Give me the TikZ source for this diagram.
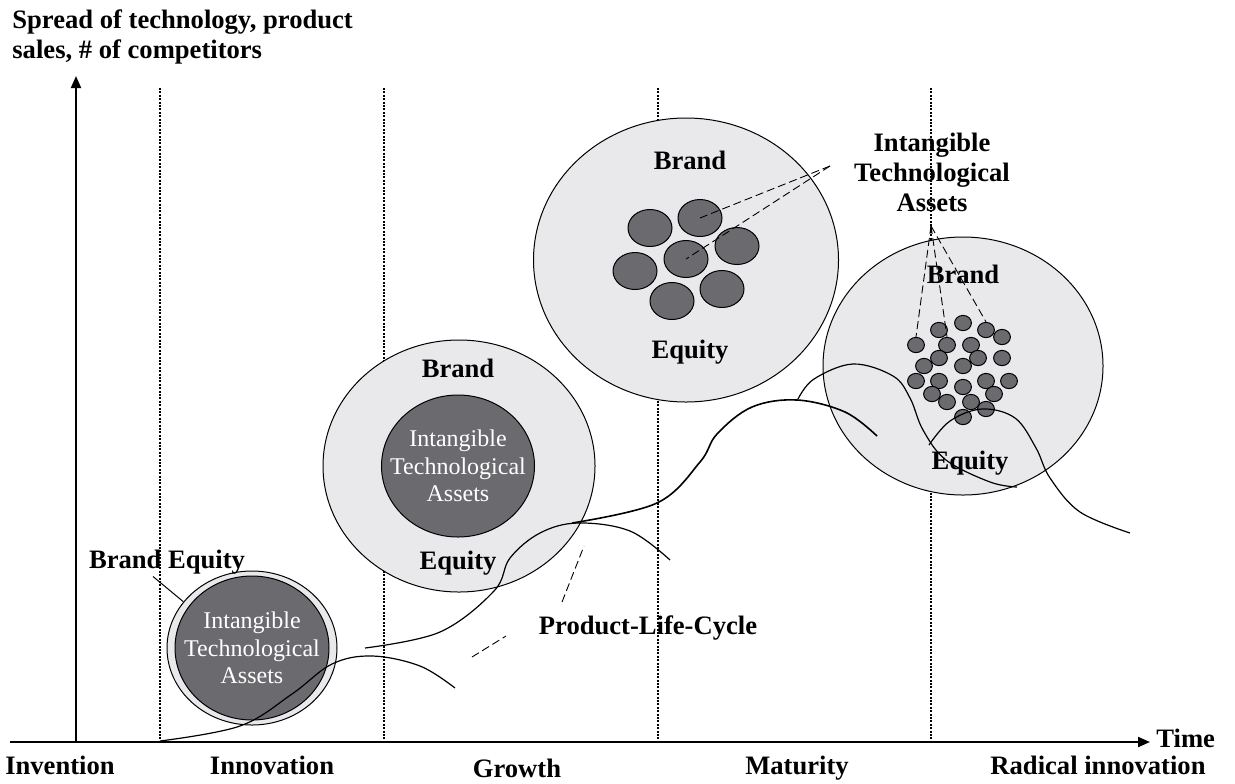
\documentclass[tikz,border=0pt]{standalone}
\usepackage{fontspec}
\setmainfont{Liberation Serif}
\usetikzlibrary{shapes.geometric,arrows.meta,calc}

\definecolor{brandgray}{HTML}{E9E9EB}
\definecolor{assetgray}{HTML}{6B6B6F}

\tikzset{
    lbl/.style={font=\bfseries\fontsize{13.3}{15}\selectfont,align=center,inner sep=1pt},
    brand/.style={ellipse,draw,line width=0.5pt,fill=brandgray,inner sep=0pt},
    asset/.style={ellipse,draw,line width=0.5pt,fill=assetgray,inner sep=0pt},
    assettext/.style={text=white,align=center,inner sep=0pt,font=\fontsize{12}{13.8}\selectfont},
    bigdot/.style={ellipse,draw,line width=0.5pt,fill=assetgray,inner sep=0pt,minimum width=22pt,minimum height=18.5pt},
    smalldot/.style={ellipse,draw,line width=0.5pt,fill=assetgray,inner sep=0pt,minimum width=8.4pt,minimum height=7.6pt},
    phase/.style={line width=1pt,dash pattern=on 1pt off 0.7pt},
    lead/.style={line width=0.45pt,dash pattern=on 4pt off 2pt},
    plc/.style={line width=0.6pt}
}

\begin{document}
\begin{tikzpicture}[x=0.5pt,y=-0.5pt]
    \useasboundingbox (0,0) rectangle (1235,783);

    \draw[phase] (160,88) -- (160,742);
    \draw[phase] (384,88) -- (384,742);
    \draw[phase] (658,88) -- (658,742);
    \draw[phase] (931,88) -- (931,742);

    \draw[line width=1pt,-{Triangle[length=6pt,width=5pt]}] (10,742) -- (1150,742);
    \draw[line width=1pt,-{Triangle[length=6pt,width=5pt]}] (76,742) -- (76,76);

    \node[lbl,align=left,anchor=north west,inner sep=0pt] (yax) at (12,9) {Spread of technology, product\\sales, \# of competitors};
    \node[lbl,anchor=west] (time) at (1154,738) {Time};
    \node[lbl] (inv) at (60,765) {Invention};
    \node[lbl] (innov) at (272,765) {Innovation};
    \node[lbl] (grow) at (517,768) {Growth};
    \node[lbl] (mat) at (797,768) {Maturity};
    \node[lbl] (rad) at (1098,765) {Radical innovation};

    % innovation
    \node[brand,minimum width=85pt,minimum height=77pt] (sring) at (252,648) {};
    \node[asset,minimum width=77pt,minimum height=72pt] (sasset) at (252,648) {};
    \node[assettext] (stext) at (sasset) {Intangible\\Technological\\Assets};
    \node[lbl] (sbrand) at (167,562) {Brand Equity};
    \draw[line width=0.5pt] ($(sbrand.south)+(-14,0)$) -- (sring.146);

    % growth
    \node[brand,minimum width=136pt,minimum height=126pt] (gring) at (459,466) {};
    \node[asset,minimum width=76.5pt,minimum height=71pt] (gasset) at (458,466) {};
    \node[assettext] (gtext) at (gasset) {Intangible\\Technological\\Assets};
    \node[lbl] (gbrand) at (458,368) {Brand};
    \node[lbl] (gequity) at (458,563) {Equity};

    % maturity
    \node[brand,minimum width=152.5pt,minimum height=142pt] (mring) at (686,260) {};
    \node[lbl] (mbrand) at (690,160) {Brand};
    \node[lbl] (mequity) at (690,352) {Equity};
    \node[bigdot] (m1) at (650,228) {};
    \node[bigdot] (m2) at (700,218) {};
    \node[bigdot] (m3) at (686,259) {};
    \node[bigdot] (m4) at (737,246) {};
    \node[bigdot] (m5) at (635,271) {};
    \node[bigdot] (m6) at (672,301) {};
    \node[bigdot] (m7) at (722,289) {};

    % radical innovation
    \node[brand,minimum width=140pt,minimum height=129pt] (rring) at (963,366) {};
    \node[lbl] (rbrand) at (963,274) {Brand};
    \node[lbl] (requity) at (970,463) {Equity};
    \foreach \px/\py [count=\i] in {916/345,939/330,963/323,986/330,1002/337,947/345,971/345,939/358,978/358,1002/358,
        924/366,963/366,916/381,939/381,986/381,1009/381,963/387,932/394,994/394,947/402,971/402,986/409,963/417}
        \node[smalldot] (r\i) at (\px,\py) {};

    \node[lbl] (ita) at (932,172) {Intangible\\Technological\\Assets};
    \coordinate (mtip) at (830,166);
    \coordinate (rtip) at (931,226);
    \draw[lead] (mtip) -- (m2.center);
    \draw[lead] (mtip) -- (m3.center);
    \draw[lead] (rtip) -- (r1.north);
    \draw[lead] (rtip) -- (r6.north);
    \draw[lead] (rtip) -- (r4.north);

    % life cycles
    \draw[plc] plot[smooth,tension=0.6] coordinates {(160,741) (240,726) (292,694) (332,664) (372,656) (420,666) (455,688)};
    \draw[plc] plot[smooth,tension=0.6] coordinates {(365,648) (440,632) (494,591) (510,558) (540,533) (578,523) (630,531) (670,560)};
    \draw[plc,line width=0.8pt] plot[smooth,tension=0.6] coordinates {(572,523) (657,503) (700,462) (717,434) (752,407) (797,400) (845,412) (877,436)};
    \draw[plc] plot[smooth,tension=0.6] coordinates {(798,399) (814,379) (853,364) (893,376) (910,398) (923,430) (946,460) (990,482) (1017,487)};
    \draw[plc] plot[smooth,tension=0.6] coordinates {(929,445) (950,421) (982,409) (1015,418) (1036,448) (1050,478) (1080,512) (1130,533)};

    \node[lbl] (plcl) at (648,628) {Product-Life-Cycle};
    \coordinate (pa) at (562,602);
    \coordinate (pb) at (584,546);
    \coordinate (pc) at (472,657);
    \coordinate (pd) at (506,636);
    \draw[lead] (pa) -- (pb);
    \draw[lead] (pc) -- (pd);
\end{tikzpicture}
\end{document}
